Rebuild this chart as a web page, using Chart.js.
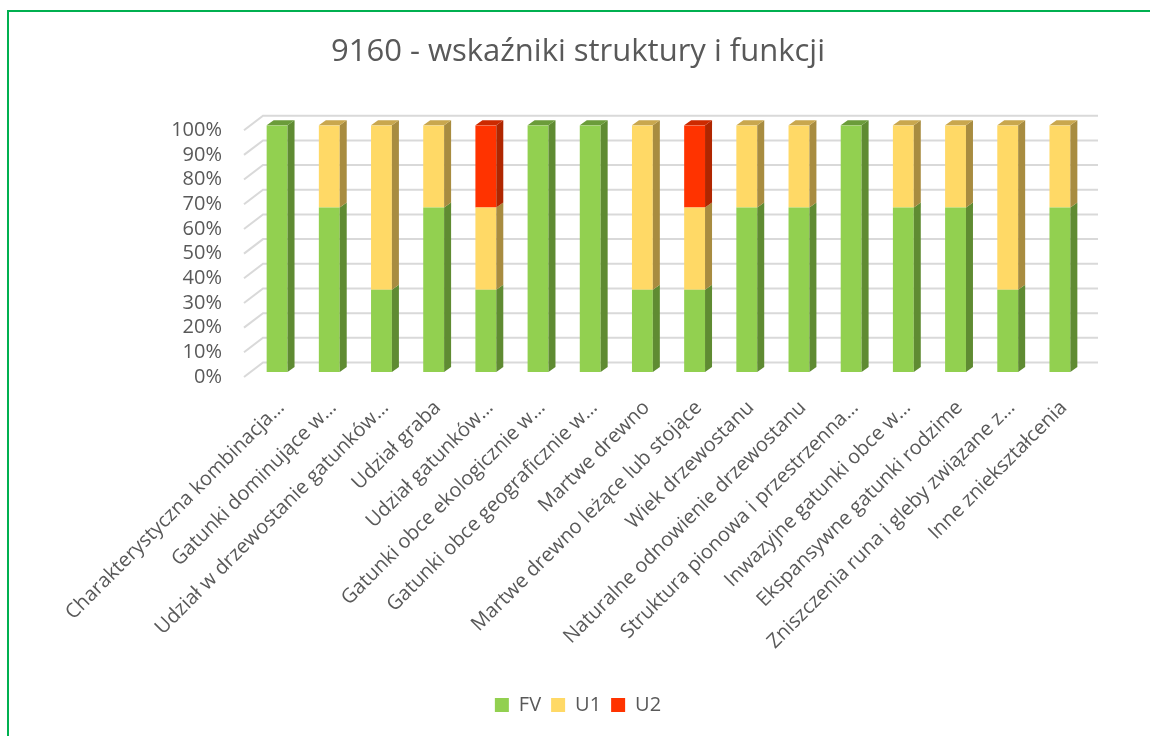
<!DOCTYPE html>
<html>
<head>
<meta charset="utf-8">
<script src="https://cdn.jsdelivr.net/npm/chart.js@4.4.0/dist/chart.umd.min.js"></script>
<style>
html,body{margin:0;padding:0;background:#ffffff;}
#wrap{position:relative;width:1150px;height:736px;}
</style>
</head>
<body>
<div id="wrap"><canvas id="c" width="1150" height="736"></canvas></div>
<script>
const titleText = '9160 - wskaźniki struktury i funkcji';
const categories = [
  'Charakterystyczna kombinacja…',
  'Gatunki dominujące w…',
  'Udział w drzewostanie gatunków…',
  'Udział graba',
  'Udział gatunków…',
  'Gatunki obce ekologicznie w…',
  'Gatunki obce geograficznie w…',
  'Martwe drewno',
  'Martwe drewno leżące lub stojące',
  'Wiek drzewostanu',
  'Naturalne odnowienie drzewostanu',
  'Struktura pionowa i przestrzenna…',
  'Inwazyjne gatunki obce w…',
  'Ekspansywne gatunki rodzime',
  'Zniszczenia runa i gleby związane z…',
  'Inne zniekształcenia'
];
const seriesNames = ['FV', 'U1', 'U2'];
const fvValues = [100, 66.67, 33.33, 66.67, 33.33, 100, 100, 33.33, 33.33, 66.67, 66.67, 100, 66.67, 66.67, 33.33, 66.67];
const u1Values = [0, 33.33, 66.67, 33.33, 33.33, 0, 0, 66.67, 33.34, 33.33, 33.33, 0, 33.33, 33.33, 66.67, 33.33];
const u2Values = [0, 0, 0, 0, 33.34, 0, 0, 0, 33.33, 0, 0, 0, 0, 0, 0, 0];
const yTickLabels = ['0%', '10%', '20%', '30%', '40%', '50%', '60%', '70%', '80%', '90%', '100%'];

const frontColors = ['#92D050', '#FFD966', '#FF3300'];
const sideColors = ['#5F8B32', '#A88C40', '#B02600'];
const topColors = ['#6B9C3A', '#C9A74E', '#CC2A00'];
const textColor = '#595959';
const FONT = "'Open Sans', 'DejaVu Sans', sans-serif";

// depth offsets (pixels) of the pseudo-3D look
const BAR_DX = 7, BAR_DY = 5;
const WALL_BACK_DX = 12, WALL_BACK_DY = 9.5;
const WALL_FRONT_DX = -7, WALL_FRONT_DY = -5;

const framePlugin = {
  id: 'frame',
  beforeDraw(chart) {
    const ctx = chart.ctx;
    ctx.save();
    ctx.fillStyle = '#ffffff';
    ctx.fillRect(0, 0, chart.width, chart.height);
    ctx.strokeStyle = '#00B050';
    ctx.lineWidth = 2;
    ctx.beginPath();
    ctx.moveTo(8, chart.height);
    ctx.lineTo(8, 11);
    ctx.lineTo(chart.width, 11);
    ctx.stroke();
    ctx.restore();
  }
};

const wallPlugin = {
  id: 'wall',
  beforeDatasetsDraw(chart) {
    const ctx = chart.ctx;
    const ys = chart.scales.y;
    const area = chart.chartArea;
    ctx.save();
    ctx.strokeStyle = '#D9D9D9';
    ctx.lineWidth = 2;
    ys.ticks.forEach(t => {
      const p = ys.getPixelForValue(t.value);
      ctx.beginPath();
      ctx.moveTo(area.left + WALL_FRONT_DX, p - WALL_FRONT_DY);
      ctx.lineTo(area.left + WALL_BACK_DX, p - WALL_BACK_DY);
      ctx.lineTo(area.right + WALL_BACK_DX, p - WALL_BACK_DY);
      ctx.stroke();
    });
    ctx.restore();
  }
};

const depthPlugin = {
  id: 'depth',
  afterDatasetsDraw(chart) {
    const ctx = chart.ctx;
    const n = chart.data.labels.length;
    const topIdx = new Array(n).fill(-1);
    chart.data.datasets.forEach((ds, di) => {
      ds.data.forEach((v, j) => { if (v > 0) topIdx[j] = di; });
    });
    ctx.save();
    chart.data.datasets.forEach((ds, di) => {
      const meta = chart.getDatasetMeta(di);
      meta.data.forEach((el, j) => {
        if (!(ds.data[j] > 0)) return;
        const {x, y, base, width} = el.getProps(['x', 'y', 'base', 'width'], true);
        const r = x + width / 2, l = x - width / 2;
        ctx.fillStyle = sideColors[di];
        ctx.beginPath();
        ctx.moveTo(r, y);
        ctx.lineTo(r + BAR_DX, y - BAR_DY);
        ctx.lineTo(r + BAR_DX, base - BAR_DY);
        ctx.lineTo(r, base);
        ctx.closePath();
        ctx.fill();
        if (topIdx[j] === di) {
          ctx.fillStyle = topColors[di];
          ctx.beginPath();
          ctx.moveTo(l, y);
          ctx.lineTo(l + BAR_DX, y - BAR_DY);
          ctx.lineTo(r + BAR_DX, y - BAR_DY);
          ctx.lineTo(r, y);
          ctx.closePath();
          ctx.fill();
        }
      });
    });
    ctx.restore();
  }
};

const seriesValues = [fvValues, u1Values, u2Values];

new Chart(document.getElementById('c'), {
  type: 'bar',
  data: {
    labels: categories,
    datasets: seriesNames.map((name, i) => ({
      label: name,
      data: seriesValues[i],
      backgroundColor: frontColors[i],
      borderWidth: 0,
      barPercentage: 0.40,
      categoryPercentage: 1.0
    }))
  },
  options: {
    responsive: false,
    animation: false,
    devicePixelRatio: 1,
    layout: { padding: { left: 70, right: 64, top: 0, bottom: 11 } },
    plugins: {
      title: {
        display: true,
        text: titleText,
        color: textColor,
        font: { family: FONT, size: 31, weight: 'normal', lineHeight: 1.2 },
        padding: { top: 34, bottom: 54 }
      },
      legend: {
        display: true,
        position: 'bottom',
        labels: {
          color: textColor,
          font: { family: FONT, size: 20 },
          boxWidth: 14,
          boxHeight: 14,
          padding: 10
        }
      },
      tooltip: { enabled: false }
    },
    scales: {
      x: {
        stacked: true,
        grid: { display: false, drawTicks: false },
        border: { display: false },
        ticks: {
          color: textColor,
          font: { family: FONT, size: 20 },
          maxRotation: 45,
          minRotation: 45,
          autoSkip: false,
          padding: 24,
          labelOffset: 4
        },
        afterFit(scale) { scale.height = 313; }
      },
      y: {
        stacked: true,
        min: 0,
        max: 100,
        grid: { display: false, drawTicks: false },
        border: { display: false },
        ticks: {
          stepSize: 10,
          autoSkip: false,
          color: textColor,
          font: { family: FONT, size: 20 },
          padding: 29,
          labelOffset: 5,
          callback: (v, i) => yTickLabels[i]
        },
        afterFit(scale) { scale.width = 181; }
      }
    }
  },
  plugins: [framePlugin, wallPlugin, depthPlugin]
});
</script>
</body>
</html>
